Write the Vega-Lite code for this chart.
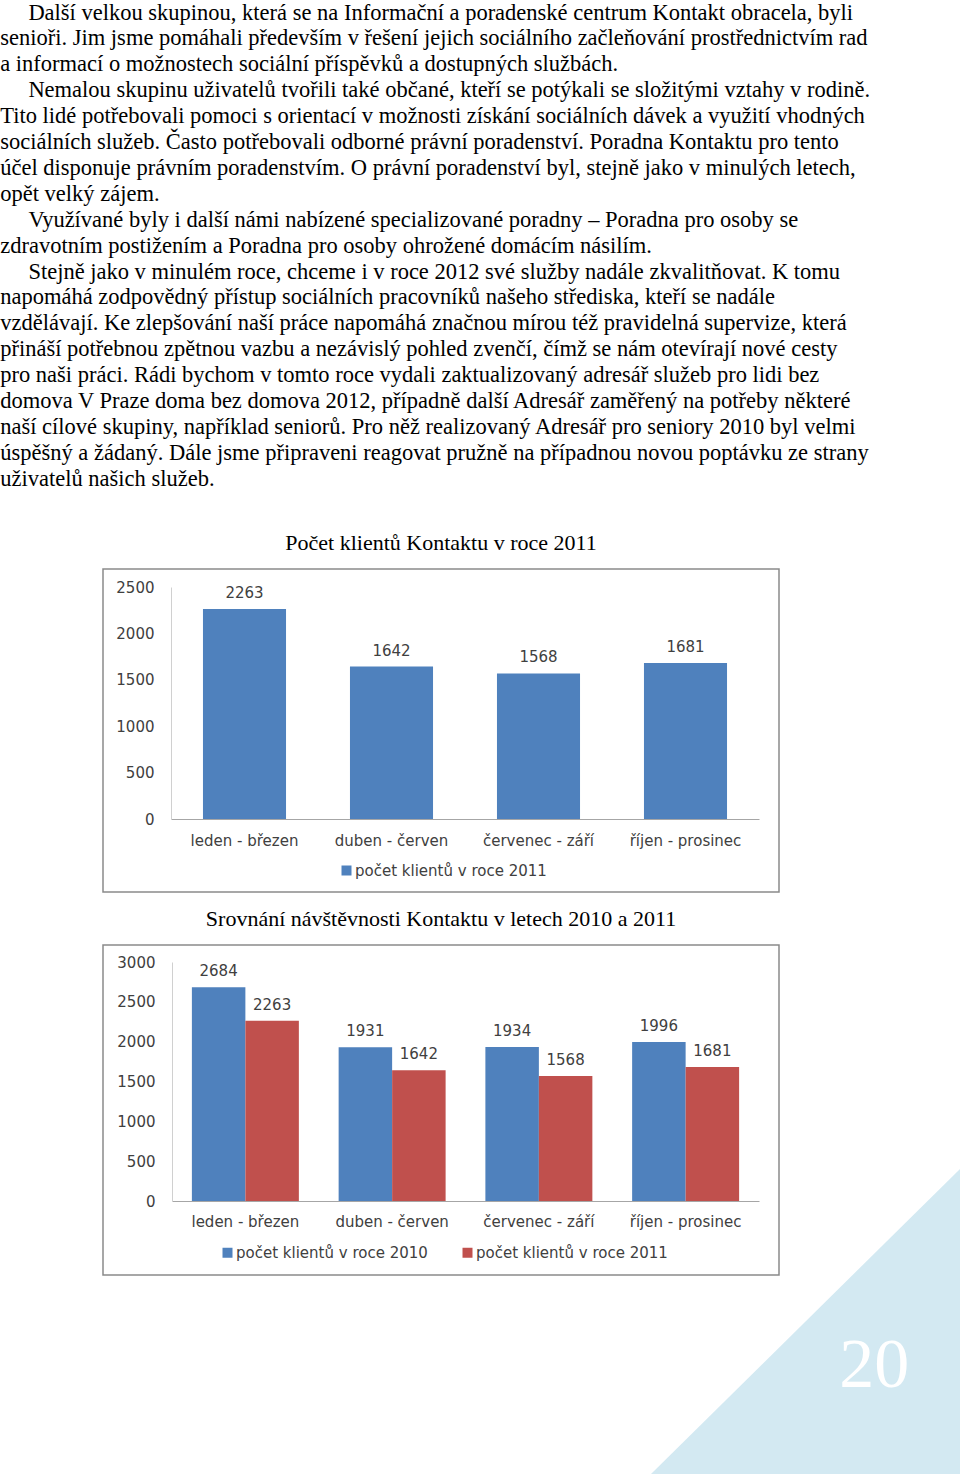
{
  "$schema": "https://vega.github.io/schema/vega-lite/v6.json",
  "padding": {"top": 1, "left": 0, "right": 0, "bottom": 0},
  "background": "white",
  "title": {
    "text": [
      "\u200b\u00a0\u00a0\u00a0\u00a0\u00a0Další velkou skupinou, která se na Informační a poradenské centrum Kontakt obracela, byli",
      "senioři. Jim jsme pomáhali především v řešení jejich sociálního začleňování prostřednictvím rad",
      "a informací o možnostech sociální příspěvků a dostupných službách.",
      "\u200b\u00a0\u00a0\u00a0\u00a0\u00a0Nemalou skupinu uživatelů tvořili také občané, kteří se potýkali se složitými vztahy v rodině.",
      "Tito lidé potřebovali pomoci s orientací v možnosti získání sociálních dávek a využití vhodných",
      "sociálních služeb. Často potřebovali odborné právní poradenství. Poradna Kontaktu pro tento",
      "účel disponuje právním poradenstvím. O právní poradenství byl, stejně jako v minulých letech,",
      "opět velký zájem.",
      "\u200b\u00a0\u00a0\u00a0\u00a0\u00a0Využívané byly i další námi nabízené specializované poradny – Poradna pro osoby se",
      "zdravotním postižením a Poradna pro osoby ohrožené domácím násilím.",
      "\u200b\u00a0\u00a0\u00a0\u00a0\u00a0Stejně jako v minulém roce, chceme i v roce 2012 své služby nadále zkvalitňovat. K tomu",
      "napomáhá zodpovědný přístup sociálních pracovníků našeho střediska, kteří se nadále",
      "vzdělávají. Ke zlepšování naší práce napomáhá značnou mírou též pravidelná supervize, která",
      "přináší potřebnou zpětnou vazbu a nezávislý pohled zvenčí, čímž se nám otevírají nové cesty",
      "pro naši práci. Rádi bychom v tomto roce vydali zaktualizovaný adresář služeb pro lidi bez",
      "domova V Praze doma bez domova 2012, případně další Adresář zaměřený na potřeby některé",
      "naší cílové skupiny, například seniorů. Pro něž realizovaný Adresář pro seniory 2010 byl velmi",
      "úspěšný a žádaný. Dále jsme připraveni reagovat pružně na případnou novou poptávku ze strany",
      "uživatelů našich služeb."
    ],
    "anchor": "start",
    "frame": "bounds",
    "dx": -102,
    "offset": 41,
    "font": "Liberation Serif",
    "fontSize": 22.5,
    "fontWeight": "normal",
    "lineHeight": 25.9,
    "color": "#000000"
  },
  "datasets": {
    "q2011": [
      {"obdobi": "leden - březen", "serie": "počet klientů v roce 2011", "pocet": 2263},
      {"obdobi": "duben - červen", "serie": "počet klientů v roce 2011", "pocet": 1642},
      {"obdobi": "červenec - září", "serie": "počet klientů v roce 2011", "pocet": 1568},
      {"obdobi": "říjen - prosinec", "serie": "počet klientů v roce 2011", "pocet": 1681}
    ],
    "srovnani": [
      {"obdobi": "leden - březen", "serie": "počet klientů v roce 2010", "pocet": 2684},
      {"obdobi": "leden - březen", "serie": "počet klientů v roce 2011", "pocet": 2263},
      {"obdobi": "duben - červen", "serie": "počet klientů v roce 2010", "pocet": 1931},
      {"obdobi": "duben - červen", "serie": "počet klientů v roce 2011", "pocet": 1642},
      {"obdobi": "červenec - září", "serie": "počet klientů v roce 2010", "pocet": 1934},
      {"obdobi": "červenec - září", "serie": "počet klientů v roce 2011", "pocet": 1568},
      {"obdobi": "říjen - prosinec", "serie": "počet klientů v roce 2010", "pocet": 1996},
      {"obdobi": "říjen - prosinec", "serie": "počet klientů v roce 2011", "pocet": 1681}
    ],
    "trojuhelnik": [
      {"tx": 0, "ty": 0},
      {"tx": 1, "ty": 1}
    ],
    "strana": [
      {"label": "20"}
    ]
  },
  "spacing": 14,
  "resolve": {
    "scale": {"color": "independent"},
    "legend": {"color": "independent"}
  },
  "vconcat": [
    {
      "width": 676,
      "height": 323,
      "title": {
        "text": "Počet klientů Kontaktu v roce 2011",
        "anchor": "middle",
        "frame": "group",
        "offset": 14,
        "font": "Liberation Serif",
        "fontSize": 22,
        "fontWeight": "normal",
        "color": "#000000"
      },
      "data": {"name": "q2011"},
      "encoding": {
        "x": {
          "field": "obdobi",
          "type": "nominal",
          "sort": null,
          "scale": {"range": [68, 656], "paddingInner": 0.435, "paddingOuter": 0.2175},
          "axis": {
            "orient": "bottom",
            "offset": -73,
            "title": null,
            "labelAngle": 0,
            "ticks": false,
            "tickSize": 0,
            "grid": false,
            "domainColor": "#a6a6a6",
            "domainWidth": 1,
            "labelPadding": 14,
            "labelFont": "DejaVu Sans",
            "labelFontSize": 15,
            "labelColor": "#404040"
          }
        },
        "y": {
          "field": "pocet",
          "type": "quantitative",
          "scale": {"domain": [0, 2500], "range": [250, 18], "nice": false},
          "axis": {
            "values": [0, 500, 1000, 1500, 2000, 2500],
            "format": "d",
            "offset": -68,
            "title": null,
            "ticks": false,
            "tickSize": 0,
            "grid": false,
            "domainColor": "#d0d0d0",
            "labelPadding": 17,
            "labelFont": "DejaVu Sans",
            "labelFontSize": 15,
            "labelColor": "#404040"
          }
        }
      },
      "layer": [
        {
          "mark": {"type": "bar"},
          "encoding": {
            "color": {
              "field": "serie",
              "type": "nominal",
              "scale": {"range": ["#4f81bd"]},
              "legend": {
                "orient": "none",
                "legendX": 236,
                "legendY": 294,
                "title": null,
                "direction": "horizontal",
                "symbolType": "square",
                "symbolSize": 100,
                "symbolStrokeWidth": 0,
                "labelFont": "DejaVu Sans",
                "labelFontSize": 15,
                "labelColor": "#404040",
                "labelOffset": 1,
                "labelLimit": 0
              }
            }
          }
        },
        {
          "mark": {"type": "text", "dy": -11, "baseline": "alphabetic", "align": "center", "font": "DejaVu Sans", "fontSize": 15, "color": "#404040"},
          "encoding": {"text": {"field": "pocet", "type": "quantitative", "format": "d"}}
        }
      ]
    },
    {
      "width": 676,
      "height": 330,
      "title": {
        "text": "Srovnání návštěvnosti Kontaktu v letech 2010 a 2011",
        "anchor": "middle",
        "frame": "group",
        "offset": 14,
        "font": "Liberation Serif",
        "fontSize": 22,
        "fontWeight": "normal",
        "color": "#000000"
      },
      "layer": [
        {
          "data": {"name": "srovnani"},
          "encoding": {
            "x": {
              "field": "obdobi",
              "type": "nominal",
              "sort": null,
              "scale": {"range": [69, 656], "paddingInner": 0.271, "paddingOuter": 0.1355},
              "axis": {
                "orient": "bottom",
                "offset": -74,
                "title": null,
                "labelAngle": 0,
                "ticks": false,
                "tickSize": 0,
                "grid": false,
                "domainColor": "#a6a6a6",
                "labelPadding": 13,
                "labelFont": "DejaVu Sans",
                "labelFontSize": 15,
                "labelColor": "#404040"
              }
            },
            "xOffset": {"field": "serie", "type": "nominal", "sort": ["počet klientů v roce 2010", "počet klientů v roce 2011"]},
            "y": {
              "field": "pocet",
              "type": "quantitative",
              "scale": {"domain": [0, 3000], "range": [256, 17], "nice": false},
              "axis": {
                "values": [0, 500, 1000, 1500, 2000, 2500, 3000],
                "format": "d",
                "offset": -69,
                "title": null,
                "ticks": false,
                "tickSize": 0,
                "grid": false,
                "domainColor": "#d0d0d0",
                "labelPadding": 17,
                "labelFont": "DejaVu Sans",
                "labelFontSize": 15,
                "labelColor": "#404040"
              }
            }
          },
          "layer": [
            {
              "mark": {"type": "bar"},
              "encoding": {
                "color": {
                  "field": "serie",
                  "type": "nominal",
                  "sort": ["počet klientů v roce 2010", "počet klientů v roce 2011"],
                  "scale": {"range": ["#4f81bd", "#c0504d"]},
                  "legend": {
                    "orient": "none",
                    "legendX": 117,
                    "legendY": 300,
                    "title": null,
                    "direction": "horizontal",
                    "symbolType": "square",
                    "symbolSize": 100,
                    "symbolStrokeWidth": 0,
                    "columnPadding": 32,
                    "labelFont": "DejaVu Sans",
                    "labelFontSize": 15,
                    "labelColor": "#404040",
                    "labelOffset": 1,
                    "labelLimit": 0
                  }
                }
              }
            },
            {
              "mark": {"type": "text", "dy": -11, "baseline": "alphabetic", "align": "center", "font": "DejaVu Sans", "fontSize": 15, "color": "#404040"},
              "encoding": {"text": {"field": "pocet", "type": "quantitative", "format": "d"}}
            }
          ]
        },
        {
          "layer": [
            {
              "data": {"name": "trojuhelnik"},
              "mark": {"type": "area", "color": "#d3e9f2", "opacity": 1, "clip": false},
              "encoding": {
                "x": {"field": "tx", "type": "quantitative", "scale": {"domain": [0, 1], "range": [548, 858]}, "axis": null},
                "y": {"field": "ty", "type": "quantitative", "scale": {"domain": [0, 1], "range": [529, 223]}, "axis": null},
                "y2": {"datum": 0}
              }
            },
            {
              "data": {"name": "strana"},
              "mark": {"type": "text", "font": "Liberation Serif", "fontSize": 70, "color": "#ffffff", "align": "center", "baseline": "alphabetic"},
              "encoding": {
                "x": {"datum": 0.72, "type": "quantitative"},
                "y": {"datum": 0.284, "type": "quantitative"},
                "text": {"field": "label", "type": "nominal"}
              }
            }
          ]
        }
      ],
      "resolve": {
        "scale": {"x": "independent", "y": "independent"},
        "axis": {"x": "independent", "y": "independent"}
      }
    }
  ],
  "config": {
    "view": {"stroke": "#8a8a8a", "strokeWidth": 1.5},
    "axis": {"domainWidth": 1}
  }
}
